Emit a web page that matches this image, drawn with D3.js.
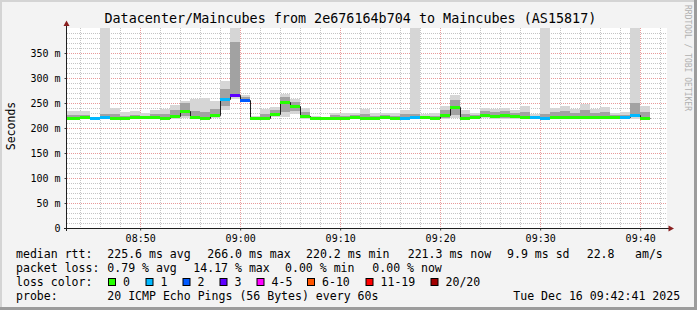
<!DOCTYPE html>
<html>
<head>
<meta charset="utf-8">
<script src="https://cdn.jsdelivr.net/npm/d3@7"></script>
<style>
body { margin: 0; background: #f3f3f3; }
svg { display: block; font-family: "DejaVu Sans Mono", monospace; }
</style>
</head>
<body>
<svg id="chart" width="697" height="310"></svg>
<script>
// one value per minute, first bar starts 08:42 (ms)
var medianRtt = [221, 221, 223, 220.5, 222, 221, 221, 222, 222, 222,
    220, 224.5, 234, 221.5, 221, 226.5, 258, 266, 256.5, 220.5,
    220.5, 228.5, 252.5, 244.5, 224.5, 220.5, 220.5, 220.5, 220.5, 221.5,
    220.5, 221, 221.5, 220.5, 220.5, 221.5, 221.5, 220.5, 225.5, 241.5,
    220.5, 222, 226.5, 224.5, 226, 224, 221.5, 221.5, 220.5, 221.5,
    221.5, 221.5, 221.5, 221.5, 221.5, 221.5, 221.5, 225.5, 220.5];
var lossCount = [0, 0, 0, 1, 1, 0, 0, 0, 0, 0,
    0, 0, 0, 0, 0, 0, 1, 3, 2, 0,
    0, 0, 0, 0, 0, 0, 0, 0, 0, 0,
    0, 0, 0, 0, 1, 1, 0, 0, 0, 0,
    0, 0, 0, 0, 0, 0, 0, 1, 1, 0,
    0, 0, 0, 0, 0, 0, 1, 1, 0];
var rttMin = [218, 218, 219, 218, 219, 218, 218, 219, 219, 219,
    217, 219, 220, 219, 219, 220, 236, 258, 252, 218,
    218, 222, 222, 228, 218, 218, 218, 218, 218, 219,
    218, 218, 219, 218, 218, 219, 219, 218, 219, 220,
    218, 219, 220, 219, 219, 219, 219, 219, 218, 219,
    219, 219, 219, 219, 219, 219, 219, 219, 218];
var rttLow = [219, 219, 220, 219, 220, 219, 219, 220, 220, 220,
    218, 221, 224, 220, 220, 222, 245, 262, 254, 219,
    219, 225, 232, 234, 220, 219, 219, 219, 219, 220,
    219, 219, 220, 219, 219, 220, 220, 219, 221, 226,
    219, 220, 222, 221, 221, 221, 220, 220, 219, 220,
    220, 220, 220, 220, 220, 220, 220, 222, 219];
var rttHigh = [226, 226, 227, 222, 228, 228, 225, 227, 225, 228,
    228, 236, 250, 235, 232, 238, 278, 372, 262, 222,
    228, 236, 262, 252, 232, 222, 221, 226, 225, 226,
    228, 225, 226, 225, 228, 228, 224, 225, 236, 256,
    228, 226, 235, 232, 234, 230, 232, 225, 228, 232,
    234, 230, 236, 230, 232, 226, 226, 250, 232];
var rttMax = [234, 234, 234, 223, 420, 240, 232, 234, 230, 237,
    239, 246, 254, 259, 260, 254, 294, 420, 266, 224,
    239, 242, 268, 259, 241, 225, 223, 231, 230, 231,
    239, 231, 231, 231, 237, 420, 229, 231, 244, 266,
    237, 231, 241, 239, 241, 237, 244, 229, 420, 241,
    244, 239, 249, 239, 242, 231, 232, 420, 244];

var firstMinute = new Date(2025, 11, 16, 8, 42, 0);
var viewStart = new Date(2025, 11, 16, 8, 42, 41);
var viewEnd = new Date(2025, 11, 16, 9, 42, 41);
var yTickValues = [0, 50, 100, 150, 200, 250, 300, 350];

var lossLabels = ["0", "1", "2", "3", "4-5", "6-10", "11-19", "20/20"];
var lossColors = ["#26ff00", "#00b8ff", "#0059ff", "#5e00ff", "#ff00ff", "#ff5500", "#ff0000", "#a10000"];
var lossUpper = [0, 1, 2, 3, 5, 10, 19, 20];

var titleText = "Datacenter/Maincubes from 2e676164b704 to Maincubes (AS15817)";
var legendRows = [
    [["median rtt:", 16], ["225.6 ms avg", 107.3], ["266.0 ms max", 207.3], ["220.2 ms min", 306],
     ["221.3 ms now", 407.7], ["9.9 ms sd", 507], ["22.8", 586.7], ["am/s", 635]],
    [["packet loss:", 16], ["0.79 % avg", 107.3], ["14.17 % max", 193.3], ["0.00 % min", 285],
     ["0.00 % now", 372.3]],
    [["loss color:", 16]],
    [["probe:", 16], ["20 ICMP Echo Pings (56 Bytes) every 60s", 107.3], ["Tue Dec 16 09:42:41 2025", 513.3]]
];
var legendBoxX = [108, 145.5, 182.5, 219.5, 256.5, 307, 365.5, 430.5];

var svg = d3.select("#chart");
var W = 697, H = 310;
var plotL = 67, plotR = 667, plotT = 28, plotB = 228;

var x = d3.scaleTime().domain([viewStart, viewEnd]).range([plotL, plotR]);
var y = d3.scaleLinear().domain([0, 400]).range([plotB, plotT]);

var bars = medianRtt.map(function(m, i) {
    var t0 = d3.timeMinute.offset(firstMinute, i);
    return {t0: t0, t1: d3.timeMinute.offset(t0, 1), med: m, loss: lossCount[i],
        min: rttMin[i], lo: rttLow[i], hi: rttHigh[i], max: rttMax[i]};
});

function lossColor(n) {
    for (var k = 0; k < lossUpper.length; k++) if (n <= lossUpper[k]) return lossColors[k];
    return lossColors[lossColors.length - 1];
}

// frame
svg.append("rect").attr("width", W).attr("height", H).attr("fill", "#f3f3f3");
svg.append("rect").attr("x", 0).attr("y", 0).attr("width", W).attr("height", 2).attr("fill", "#d4d4d4");
svg.append("rect").attr("x", 0).attr("y", 0).attr("width", 2).attr("height", H).attr("fill", "#d4d4d4");
svg.append("rect").attr("x", W - 3).attr("y", 0).attr("width", 3).attr("height", H).attr("fill", "#9c9c9c");
svg.append("rect").attr("x", 0).attr("y", H - 3).attr("width", W).attr("height", 3).attr("fill", "#9c9c9c");

// canvas
svg.append("rect").attr("x", plotL).attr("y", plotT).attr("width", plotR - plotL).attr("height", plotB - plotT)
    .attr("fill", "#ffffff");

svg.append("defs").append("clipPath").attr("id", "plot")
    .append("rect").attr("x", plotL).attr("y", plotT).attr("width", plotR - plotL).attr("height", plotB - plotT);

// grid
var grid = svg.append("g");
var minorY = d3.range(10, 400, 10).filter(function(v) { return v % 50 !== 0; });
grid.selectAll(".hmin").data(minorY).enter().append("line")
    .attr("x1", plotL).attr("x2", plotR)
    .attr("y1", function(d) { return Math.round(y(d)) + 0.5; })
    .attr("y2", function(d) { return Math.round(y(d)) + 0.5; })
    .attr("stroke", "#c4c4c4").attr("stroke-dasharray", "1,1");
var minorX = x.ticks(d3.timeMinute.every(2)).filter(function(d) { return d.getMinutes() % 10 !== 0; });
grid.selectAll(".vmin").data(minorX).enter().append("line")
    .attr("x1", function(d) { return Math.round(x(d)) + 0.5; })
    .attr("x2", function(d) { return Math.round(x(d)) + 0.5; })
    .attr("y1", plotT).attr("y2", plotB)
    .attr("stroke", "#c4c4c4").attr("stroke-dasharray", "1,1");
grid.selectAll(".hmaj").data(yTickValues.slice(1)).enter().append("line")
    .attr("x1", plotL).attr("x2", plotR)
    .attr("y1", function(d) { return Math.round(y(d)) + 0.5; })
    .attr("y2", function(d) { return Math.round(y(d)) + 0.5; })
    .attr("stroke", "#e89a9a").attr("stroke-dasharray", "1,1");
var majorX = x.ticks(d3.timeMinute.every(10));
grid.selectAll(".vmaj").data(majorX).enter().append("line")
    .attr("x1", function(d) { return Math.round(x(d)) + 0.5; })
    .attr("x2", function(d) { return Math.round(x(d)) + 0.5; })
    .attr("y1", plotT).attr("y2", plotB)
    .attr("stroke", "#e89a9a").attr("stroke-dasharray", "1,1");

// smoke
var plot = svg.append("g").attr("clip-path", "url(#plot)");
plot.selectAll(".outer").data(bars).enter().append("rect")
    .attr("x", function(d) { return x(d.t0); })
    .attr("width", function(d) { return x(d.t1) - x(d.t0); })
    .attr("y", function(d) { return y(d.max); })
    .attr("height", function(d) { return y(d.min) - y(d.max); })
    .attr("fill", "#d6d6d6").attr("shape-rendering", "crispEdges");
plot.selectAll(".inner").data(bars).enter().append("rect")
    .attr("x", function(d) { return x(d.t0); })
    .attr("width", function(d) { return x(d.t1) - x(d.t0); })
    .attr("y", function(d) { return y(d.hi); })
    .attr("height", function(d) { return y(d.lo) - y(d.hi); })
    .attr("fill", "#a2a2a2").attr("shape-rendering", "crispEdges");

// median step line
var stepPts = bars.map(function(d) { return [d.t0, d.med]; });
stepPts.push([bars[bars.length - 1].t1, bars[bars.length - 1].med]);
plot.append("path")
    .attr("d", d3.line().curve(d3.curveStepAfter)
        .x(function(p) { return Math.round(x(p[0])) + 0.5; })
        .y(function(p) { return Math.round(y(p[1])) + 0.5; })(stepPts))
    .attr("fill", "none").attr("stroke", "#202020").attr("stroke-width", 1);

// loss coloured median band
plot.selectAll(".med").data(bars).enter().append("rect")
    .attr("x", function(d) { return Math.round(x(d.t0)); })
    .attr("width", function(d) { return Math.round(x(d.t1)) - Math.round(x(d.t0)); })
    .attr("y", function(d) { return Math.round(y(d.med)) - 1; })
    .attr("height", 3)
    .attr("fill", function(d) { return lossColor(d.loss); });

// axes
var yAxis = svg.append("g").attr("transform", "translate(" + (plotL - 0.5) + ",0)")
    .call(d3.axisLeft(y).tickValues(yTickValues).tickSize(2).tickPadding(4)
        .tickFormat(function(v) { return v === 0 ? "0" : v + " m"; }));
var xAxis = svg.append("g").attr("transform", "translate(0," + (plotB + 0.5) + ")")
    .call(d3.axisBottom(x).ticks(d3.timeMinute.every(10)).tickSize(2).tickPadding(4)
        .tickFormat(d3.timeFormat("%H:%M")));
[yAxis, xAxis].forEach(function(a) {
    a.select(".domain").remove();
    a.selectAll("text").attr("font-family", "DejaVu Sans Mono").attr("font-size", "10px").attr("fill", "#000");
    a.selectAll(".tick line").attr("stroke", "#404040");
});
svg.append("line").attr("x1", plotL - 0.5).attr("x2", plotL - 0.5).attr("y1", plotB + 3).attr("y2", 22)
    .attr("stroke", "#202020");
svg.append("line").attr("x1", plotL - 3).attr("x2", 670).attr("y1", plotB + 0.5).attr("y2", plotB + 0.5)
    .attr("stroke", "#202020");
svg.append("path").attr("d", "M63.5,26L69.5,26L66.5,20.5Z").attr("fill", "#8a2020");
svg.append("path").attr("d", "M668.5,225.5L668.5,231.5L674,228.5Z").attr("fill", "#8a2020");

// title & side texts
svg.append("text").attr("x", 104.5).attr("y", 23.3).attr("font-size", "13.4px").attr("fill", "#000")
    .text(titleText);
svg.append("text").attr("transform", "translate(15,126) rotate(-90)").attr("text-anchor", "middle")
    .attr("font-size", "11.5px").attr("fill", "#000").text("Seconds");
svg.append("text").attr("transform", "translate(685,5) rotate(90)").attr("font-size", "8px")
    .attr("fill", "#b0b0b0").text("RRDTOOL / TOBI OETIKER");

// legend
var legend = svg.append("g").attr("font-size", "11.55px").attr("fill", "#000");
legendRows.forEach(function(row, r) {
    legend.selectAll(".row" + r).data(row).enter().append("text")
        .attr("x", function(d) { return d[1]; })
        .attr("y", 258 + r * 14)
        .attr("xml:space", "preserve")
        .text(function(d) { return d[0]; });
});
var boxes = legend.selectAll(".box").data(lossLabels).enter().append("g");
boxes.append("rect")
    .attr("x", function(d, i) { return legendBoxX[i] + 0.5; })
    .attr("y", 278.5).attr("width", 7).attr("height", 7)
    .attr("fill", function(d, i) { return lossColors[i]; })
    .attr("stroke", "#000");
boxes.append("text")
    .attr("x", function(d, i) { return legendBoxX[i] + 15; })
    .attr("y", 286)
    .text(function(d) { return d; });
</script>
</body>
</html>
